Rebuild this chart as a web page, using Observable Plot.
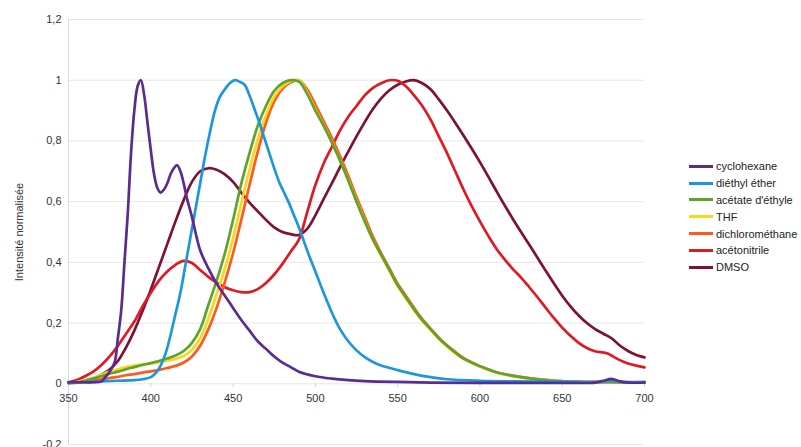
<!DOCTYPE html>
<html><head><meta charset="utf-8">
<script src="https://cdn.jsdelivr.net/npm/d3@7"></script>
<script src="https://cdn.jsdelivr.net/npm/@observablehq/plot@0.6"></script>
<style>
body{margin:0;background:#fff;font-family:"Liberation Sans",Arial,sans-serif;}
#wrap{position:relative;width:801px;height:447px;overflow:hidden;background:#fff;}
#legend{position:absolute;left:689px;top:158px;font-size:11px;color:#222;}
.item{display:flex;align-items:center;height:16.8px;white-space:nowrap;}
.sw{width:24px;height:3px;margin-right:3px;}
</style></head><body><div id="wrap"><div id="legend"></div></div>
<script>
const seriesNames = ["cyclohexane","diéthyl éther","acétate d'éthyle","THF","dichlorométhane","acétonitrile","DMSO"];
const seriesColors = ["#5a2b90","#1e96de","#5ea42c","#f8d71c","#ff5a1e","#de1a22","#7d1236"];
const xTicks = [350,400,450,500,550,600,650,700];
const yTicks = [-0.2,0,0.2,0.4,0.6,0.8,1,1.2];

const cyclohexane = [[350,0.005],[355,0.005],[360,0.005],[365,0.005],[370,0.008],[372,0.02],[375,0.04],[378,0.07],[380,0.15],[382,0.24],[384,0.40],[386,0.56],[388,0.76],[390,0.90],[392,0.98],[394,1.0],[396,0.95],[398,0.86],[400,0.77],[402,0.69],[404,0.645],[406,0.63],[408,0.64],[410,0.66],[412,0.69],[414,0.71],[416,0.72],[418,0.70],[420,0.66],[422,0.61],[425,0.55],[430,0.44],[435,0.38],[440,0.33],[445,0.29],[450,0.25],[455,0.21],[460,0.175],[465,0.14],[470,0.115],[475,0.09],[480,0.07],[485,0.055],[490,0.04],[500,0.025],[510,0.017],[520,0.012],[530,0.009],[550,0.006],[570,0.004],[600,0.003],[650,0.003],[670,0.004],[675,0.01],[680,0.016],[685,0.008],[690,0.004],[700,0.004]];
const diethylEther = [[350,0.003],[360,0.005],[370,0.008],[380,0.01],[390,0.012],[395,0.015],[400,0.022],[403,0.035],[406,0.06],[409,0.10],[412,0.16],[415,0.23],[418,0.30],[421,0.39],[424,0.48],[427,0.57],[430,0.66],[433,0.75],[436,0.83],[439,0.90],[442,0.945],[445,0.97],[448,0.99],[451,1.0],[454,0.995],[457,0.985],[460,0.95],[463,0.905],[466,0.86],[469,0.81],[472,0.76],[475,0.71],[478,0.665],[481,0.63],[484,0.595],[487,0.555],[490,0.515],[493,0.47],[496,0.425],[500,0.37],[505,0.30],[510,0.235],[515,0.18],[520,0.14],[525,0.11],[530,0.088],[535,0.072],[540,0.06],[550,0.045],[560,0.032],[570,0.022],[580,0.015],[600,0.01],[620,0.008],[650,0.007],[675,0.007],[680,0.012],[685,0.007],[700,0.006]];
const acetateEthyle = [[350,0.003],[355,0.005],[360,0.01],[365,0.017],[370,0.025],[375,0.033],[380,0.04],[385,0.048],[390,0.055],[395,0.062],[400,0.068],[405,0.075],[410,0.083],[415,0.093],[420,0.108],[425,0.135],[430,0.18],[435,0.26],[440,0.34],[445,0.43],[450,0.54],[455,0.66],[460,0.76],[465,0.85],[470,0.915],[475,0.965],[480,0.99],[485,1.0],[490,0.995],[495,0.955],[500,0.9],[505,0.85],[510,0.795],[515,0.735],[520,0.67],[525,0.6],[530,0.535],[535,0.475],[540,0.425],[545,0.375],[550,0.325],[555,0.285],[560,0.245],[565,0.21],[570,0.18],[575,0.15],[580,0.125],[585,0.103],[590,0.083],[595,0.07],[600,0.058],[610,0.038],[620,0.026],[630,0.018],[640,0.012],[650,0.008],[660,0.006],[670,0.005],[680,0.005],[690,0.004],[700,0.004]];
const thf = [[350,0.003],[355,0.006],[360,0.012],[365,0.02],[370,0.03],[375,0.04],[380,0.048],[385,0.055],[390,0.06],[395,0.064],[400,0.067],[405,0.071],[410,0.076],[415,0.082],[420,0.092],[425,0.112],[430,0.15],[435,0.215],[440,0.295],[445,0.38],[450,0.48],[455,0.595],[460,0.705],[465,0.805],[470,0.885],[475,0.945],[480,0.98],[485,0.997],[490,1.0],[495,0.96],[500,0.905],[505,0.852],[510,0.797],[515,0.737],[520,0.672],[525,0.603],[530,0.537],[535,0.474],[540,0.422],[545,0.372],[550,0.322],[555,0.282],[560,0.242],[565,0.207],[570,0.177],[575,0.148],[580,0.123],[585,0.101],[590,0.082],[595,0.068],[600,0.056],[610,0.037],[620,0.025],[630,0.017],[640,0.012],[650,0.008],[660,0.006],[670,0.005],[680,0.005],[690,0.004],[700,0.004]];
const dichloromethane = [[350,0.002],[355,0.004],[360,0.007],[365,0.011],[370,0.015],[375,0.019],[380,0.023],[385,0.028],[390,0.032],[395,0.037],[400,0.041],[405,0.046],[410,0.052],[415,0.059],[420,0.07],[425,0.09],[430,0.125],[435,0.18],[440,0.25],[445,0.335],[450,0.43],[455,0.54],[460,0.655],[465,0.765],[470,0.86],[475,0.93],[480,0.972],[485,0.993],[490,1.0],[495,0.97],[500,0.92],[505,0.865],[510,0.81],[515,0.75],[520,0.685],[525,0.615],[530,0.55],[535,0.485],[540,0.43],[545,0.38],[550,0.33],[555,0.29],[560,0.25],[565,0.213],[570,0.182],[575,0.152],[580,0.127],[585,0.105],[590,0.085],[595,0.07],[600,0.058],[610,0.038],[620,0.027],[630,0.019],[640,0.013],[650,0.009],[660,0.007],[670,0.006],[680,0.005],[690,0.004],[700,0.004]];
const acetonitrile = [[350,0.005],[355,0.012],[360,0.025],[365,0.04],[370,0.062],[375,0.09],[380,0.125],[385,0.165],[390,0.205],[395,0.255],[400,0.30],[405,0.34],[410,0.37],[415,0.392],[420,0.405],[425,0.398],[430,0.375],[435,0.352],[440,0.333],[445,0.318],[450,0.308],[455,0.302],[460,0.302],[465,0.312],[470,0.332],[475,0.36],[480,0.395],[485,0.435],[490,0.475],[495,0.565],[500,0.655],[505,0.725],[510,0.78],[515,0.835],[520,0.88],[525,0.915],[530,0.95],[535,0.975],[540,0.99],[545,1.0],[550,0.998],[555,0.98],[560,0.95],[565,0.915],[570,0.87],[575,0.815],[580,0.76],[585,0.70],[590,0.64],[595,0.585],[600,0.535],[605,0.488],[610,0.445],[615,0.41],[620,0.378],[625,0.35],[630,0.318],[635,0.285],[640,0.25],[645,0.216],[650,0.185],[655,0.158],[660,0.135],[665,0.118],[670,0.107],[675,0.103],[678,0.099],[680,0.093],[685,0.078],[690,0.067],[695,0.06],[700,0.054]];
const dmso = [[350,0.003],[355,0.005],[360,0.01],[365,0.017],[370,0.03],[375,0.047],[380,0.075],[385,0.12],[390,0.175],[395,0.24],[400,0.31],[405,0.385],[410,0.46],[415,0.535],[420,0.605],[425,0.665],[430,0.70],[435,0.71],[440,0.705],[445,0.69],[450,0.665],[455,0.63],[460,0.597],[465,0.568],[470,0.54],[475,0.515],[480,0.5],[485,0.493],[490,0.49],[495,0.51],[500,0.555],[505,0.608],[510,0.66],[515,0.714],[520,0.765],[525,0.815],[530,0.862],[535,0.905],[540,0.94],[545,0.967],[550,0.985],[555,0.996],[560,1.0],[565,0.99],[570,0.97],[575,0.937],[580,0.9],[585,0.86],[590,0.818],[595,0.775],[600,0.73],[605,0.683],[610,0.635],[615,0.588],[620,0.543],[625,0.5],[630,0.458],[635,0.415],[640,0.372],[645,0.33],[650,0.29],[655,0.255],[660,0.225],[665,0.2],[670,0.18],[675,0.165],[680,0.15],[685,0.126],[690,0.108],[695,0.095],[700,0.087]];

const seriesData = [cyclohexane, diethylEther, acetateEthyle, thf, dichloromethane, acetonitrile, dmso];
const rows = [];
for (let i = seriesData.length - 1; i >= 0; i--) {
  for (const [nm, v] of seriesData[i]) rows.push({nm, v, s: seriesNames[i]});
}

const plot = Plot.plot({
  width: 801,
  height: 447,
  marginLeft: 68,
  marginRight: 157,
  marginTop: 19,
  marginBottom: 3,
  style: {fontFamily: "'Liberation Sans', Arial, sans-serif", fontSize: "11px", color: "#333", background: "#fff"},
  x: {domain: [350, 700], axis: null},
  y: {domain: [-0.2, 1.2], axis: null},
  color: {domain: seriesNames, range: seriesColors},
  marks: [
    Plot.ruleY(yTicks, {stroke: "#e6e6e6", strokeWidth: 1}),
    Plot.ruleX([350], {stroke: "#d9d9d9", strokeWidth: 1}),
    Plot.ruleX(xTicks, {y1: 0, y2: -0.012, stroke: "#d0d0d0"}),
    Plot.axisY({ticks: yTicks, tickFormat: d => String(d).replace(".", ","), tickSize: 0, tickPadding: 7,
      label: "Intensité normalisée", labelAnchor: "center", labelOffset: 53, labelArrow: "none"}),
    Plot.text(xTicks, {x: d => d, y: 0, dy: 15, text: d => String(d), fill: "#333", fontSize: 11}),
    Plot.line(rows, {x: "nm", y: "v", z: "s", stroke: "s", strokeWidth: 2.7, curve: "catmull-rom"})
  ]
});
const wrap = document.getElementById("wrap");
wrap.insertBefore(plot, wrap.firstChild);

const legend = document.getElementById("legend");
seriesNames.forEach((n, i) => {
  const it = document.createElement("div");
  it.className = "item";
  const sw = document.createElement("span");
  sw.className = "sw";
  sw.style.background = seriesColors[i];
  const tx = document.createElement("span");
  tx.textContent = n;
  it.appendChild(sw); it.appendChild(tx);
  legend.appendChild(it);
});
</script></body></html>
